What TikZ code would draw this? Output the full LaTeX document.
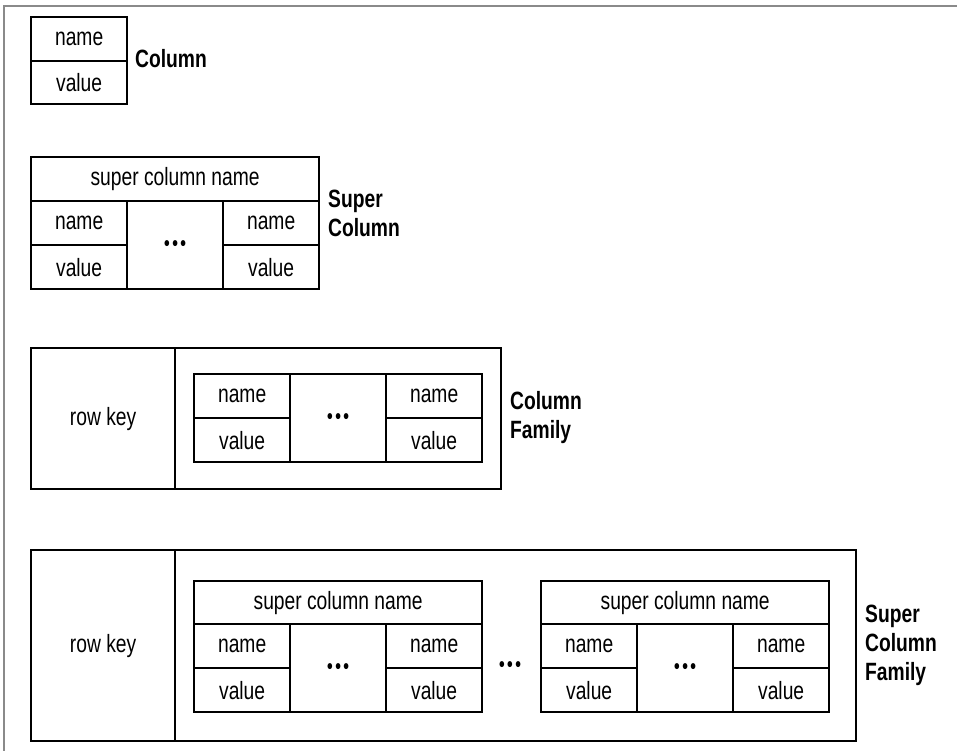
\documentclass[tikz,border=0pt]{standalone}
\usepackage{fontspec}
\setmainfont{Liberation Sans}[FakeStretch=0.77]
\usepackage{tikz}
\usetikzlibrary{positioning}
\definecolor{framegray}{HTML}{8A8A8A}

\begin{document}
\begin{tikzpicture}[x=1pt,y=-1pt,
  font=\fontsize{25}{29}\selectfont,
  cell/.style={draw,line width=2.3pt,anchor=north west,inner sep=0pt,
               minimum width=96pt,minimum height=44pt},
  head/.style={cell,minimum width=288pt},
  dotcell/.style={cell,minimum height=88pt,font=\fontsize{21}{21}\selectfont\bfseries},
  outer/.style={draw,line width=2.3pt,anchor=north west,inner sep=0pt},
  lbl/.style={font=\fontsize{25}{29}\selectfont\bfseries,anchor=west,
              align=left,inner sep=0pt},
  dots/.style={font=\fontsize{21}{21}\selectfont\bfseries,inner sep=0pt}]

\useasboundingbox (0,0) rectangle (957,751);

% ---------------- page frame -------------------------------------------------
\draw[framegray,line width=2pt] (3.5,751) -- (3.5,6.5) -- (957,6.5);

% ---------------- column -----------------------------------------------------
\node[cell] (colname) at (30,16) {name};
\node[cell,minimum height=43pt] (colvalue) at (30,60) {value};
\node[lbl] (collbl) at (135,59) {Column};

% ---------------- outer boxes with the row key ------------------------------
\node[outer,minimum width=144pt,minimum height=141pt] (cfkey) at (30,347) {row key};
\node[outer,minimum width=326pt,minimum height=141pt] (cfbody) at (174,347) {};
\node[outer,minimum width=144pt,minimum height=191pt] (scfkey) at (30,549) {row key};
\node[outer,minimum width=681pt,minimum height=191pt] (scfbody) at (174,549) {};

% ---------------- super column headers ---------------------------------------
\node[head] (schead) at (30,156) {super column name};
\node[head,minimum height=43pt] (ahead) at (193,580) {super column name};
\node[head,minimum height=43pt] (bhead) at (540,580) {super column name};

% ---------------- name / value pairs with the dots between ------------------
\foreach \n/\x/\y in {sc/30/200, cf/193/373, a/193/623, b/540/623}{
  \node[cell] (\n-name1) at (\x,\y) {name};
  \node[cell] (\n-value1) at (\x,\y+44) {value};
  \node[dotcell] (\n-dots) at (\x+96,\y) {•\kern2.5pt•\kern2.5pt•};
  \node[cell] (\n-name2) at (\x+192,\y) {name};
  \node[cell] (\n-value2) at (\x+192,\y+44) {value};
}
\node[dots] (scfdots) at (510,667) {•\kern2.5pt•\kern2.5pt•};

% ---------------- labels ------------------------------------------------------
\node[lbl] (sclbl) at (328,213) {Super\\Column};
\node[lbl] (cflbl) at (510,418) {Column\\Family};
\node[lbl] (scflbl) at (865,645) {Super\\Column\\Family};

\end{tikzpicture}
\end{document}
